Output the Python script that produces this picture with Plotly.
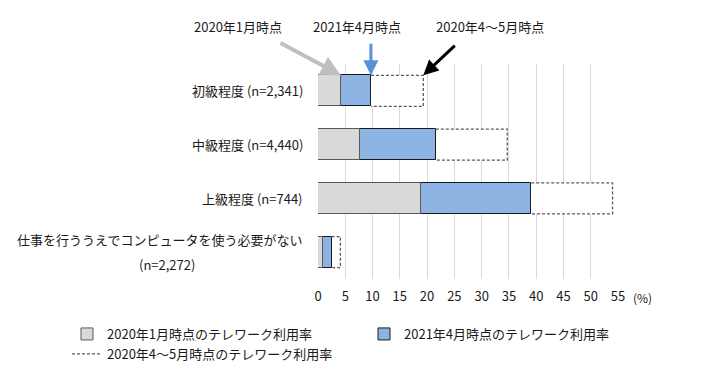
import plotly.graph_objects as go

categories = [
    "初級程度 (n=2,341)",
    "中級程度 (n=4,440)",
    "上級程度 (n=744)",
    "仕事を行ううえでコンピュータを使う必要がない|(n=2,272)",
]
jan2020 = [4.2, 7.7, 18.8, 0.9]
apr2021 = [9.7, 21.6, 39.1, 2.5]
aprmay2020 = [19.3, 34.7, 54.0, 4.1]
series_names = [
    "2020年1月時点のテレワーク利用率",
    "2021年4月時点のテレワーク利用率",
    "2020年4～5月時点のテレワーク利用率",
]
callouts = ["2020年1月時点", "2021年4月時点", "2020年4～5月時点"]
x_ticks = list(range(0, 56, 5))

FONT = "Noto Sans CJK JP, Noto Sans, sans-serif"
TXT = "#1a1a1a"
BW = 0.58
n = len(categories)
pos = [n - 1 - i for i in range(n)]

# page body has an 8px margin; work in page pixels and convert
OFF = 8
W, H = 701 - OFF, 370 - OFF
L, R, T, B = 318, 618, 64, 279  # plot area in page pixels
def px_x(p):
    return (p - L) / (R - L)
def px_y(p):
    return (B - p) / (B - T)

fig = go.Figure()

# 2020 Apr-May (white, dashed outline)
fig.add_trace(go.Bar(
    y=pos, x=aprmay2020, orientation="h", width=BW,
    marker=dict(color="white", line=dict(width=0)),
    showlegend=False, hoverinfo="skip",
))
# 2021 Apr
fig.add_trace(go.Bar(
    y=pos, x=apr2021, orientation="h", width=BW, name=series_names[1],
    marker=dict(color="#8db3e2", line=dict(color="#1a1a1a", width=1)),
    legend="legend2",
))
# 2020 Jan
fig.add_trace(go.Bar(
    y=pos, x=jan2020, orientation="h", width=BW, name=series_names[0],
    marker=dict(color="#d9d9d9", line=dict(color="#595959", width=1)),
    legend="legend",
))

# dashed outline for 2020 Apr-May part beyond the 2021 bar
ox, oy = [], []
for p, a, t in zip(pos, apr2021, aprmay2020):
    ox += [a, t, t, a, None]
    oy += [p + BW / 2, p + BW / 2, p - BW / 2, p - BW / 2, None]
fig.add_trace(go.Scatter(
    x=ox, y=oy, mode="lines", name=series_names[2],
    line=dict(color="#595959", width=1.3, dash="3px,2px"),
    legend="legend3", hoverinfo="skip",
))

annotations = []
# category labels
for p, c in zip(pos, categories):
    if "|" in c:
        l1, l2 = c.split("|")
        annotations.append(dict(text=l1, xref="paper", yref="y", x=px_x(305), y=p,
                                xanchor="right", yanchor="middle", yshift=13,
                                showarrow=False, font=dict(size=13, color=TXT, family=FONT)))
        annotations.append(dict(text=l2, xref="paper", yref="y", x=px_x(167), y=p,
                                xanchor="center", yanchor="middle", yshift=-12,
                                showarrow=False, font=dict(size=13, color=TXT, family=FONT)))
    else:
        annotations.append(dict(text=c, xref="paper", yref="y", x=px_x(305), y=p,
                                xanchor="right", yanchor="middle",
                                showarrow=False, font=dict(size=13, color=TXT, family=FONT)))

# callout texts
for txt, cx in zip(callouts, [238, 357, 490]):
    annotations.append(dict(text=txt, xref="paper", yref="paper", x=px_x(cx), y=px_y(27),
                            xanchor="center", yanchor="middle", showarrow=False,
                            font=dict(size=13, color=TXT, family=FONT)))

# arrows pointing to the first category's bar ends
top = pos[0] + BW / 2
annotations.append(dict(x=jan2020[0], y=top, xref="x", yref="y", ax=-62, ay=-33, text="",
                        showarrow=True, arrowhead=2, arrowsize=1, arrowwidth=4,
                        arrowcolor="#bfbfbf", standoff=0))
annotations.append(dict(x=apr2021[0], y=top, xref="x", yref="y", ax=0, ay=-33, text="",
                        showarrow=True, arrowhead=2, arrowsize=1, arrowwidth=3,
                        arrowcolor="#5b8fd9", standoff=0))
annotations.append(dict(x=aprmay2020[0], y=top, xref="x", yref="y", ax=33, ay=-31, text="",
                        showarrow=True, arrowhead=2, arrowsize=1, arrowwidth=3,
                        arrowcolor="#000000", standoff=0))
# unit
annotations.append(dict(text="(%)", xref="paper", yref="paper", x=px_x(631), y=px_y(297),
                        xanchor="left", yanchor="middle", showarrow=False,
                        font=dict(size=12, color=TXT, family=FONT)))

leg_common = dict(orientation="h", xanchor="left", yanchor="middle",
                  font=dict(size=13, color=TXT, family=FONT), bgcolor="rgba(0,0,0,0)",
                  itemwidth=30)

fig.update_layout(
    width=W, height=H,
    margin=dict(l=L - OFF, r=W - (R - OFF), t=T - OFF, b=H - (B - OFF), autoexpand=False),
    paper_bgcolor="white", plot_bgcolor="white",
    barmode="overlay", bargap=0,
    font=dict(family=FONT, size=13, color=TXT),
    xaxis=dict(range=[0, 55], tickvals=x_ticks, showgrid=True, gridcolor="#d9d9d9",
               gridwidth=1, zeroline=False, showline=False, ticks="",
               ticklabelstandoff=8, tickfont=dict(size=13, color=TXT, family=FONT),
               fixedrange=True),
    yaxis=dict(range=[-0.5, n - 0.5], showticklabels=False, showgrid=False,
               zeroline=False, showline=False, fixedrange=True),
    annotations=annotations,
    legend=dict(x=px_x(67), y=px_y(334), **leg_common),
    legend2=dict(x=px_x(364), y=px_y(334), **leg_common),
    legend3=dict(x=px_x(67), y=px_y(354), **leg_common),
)

fig.write_html("out.html")
